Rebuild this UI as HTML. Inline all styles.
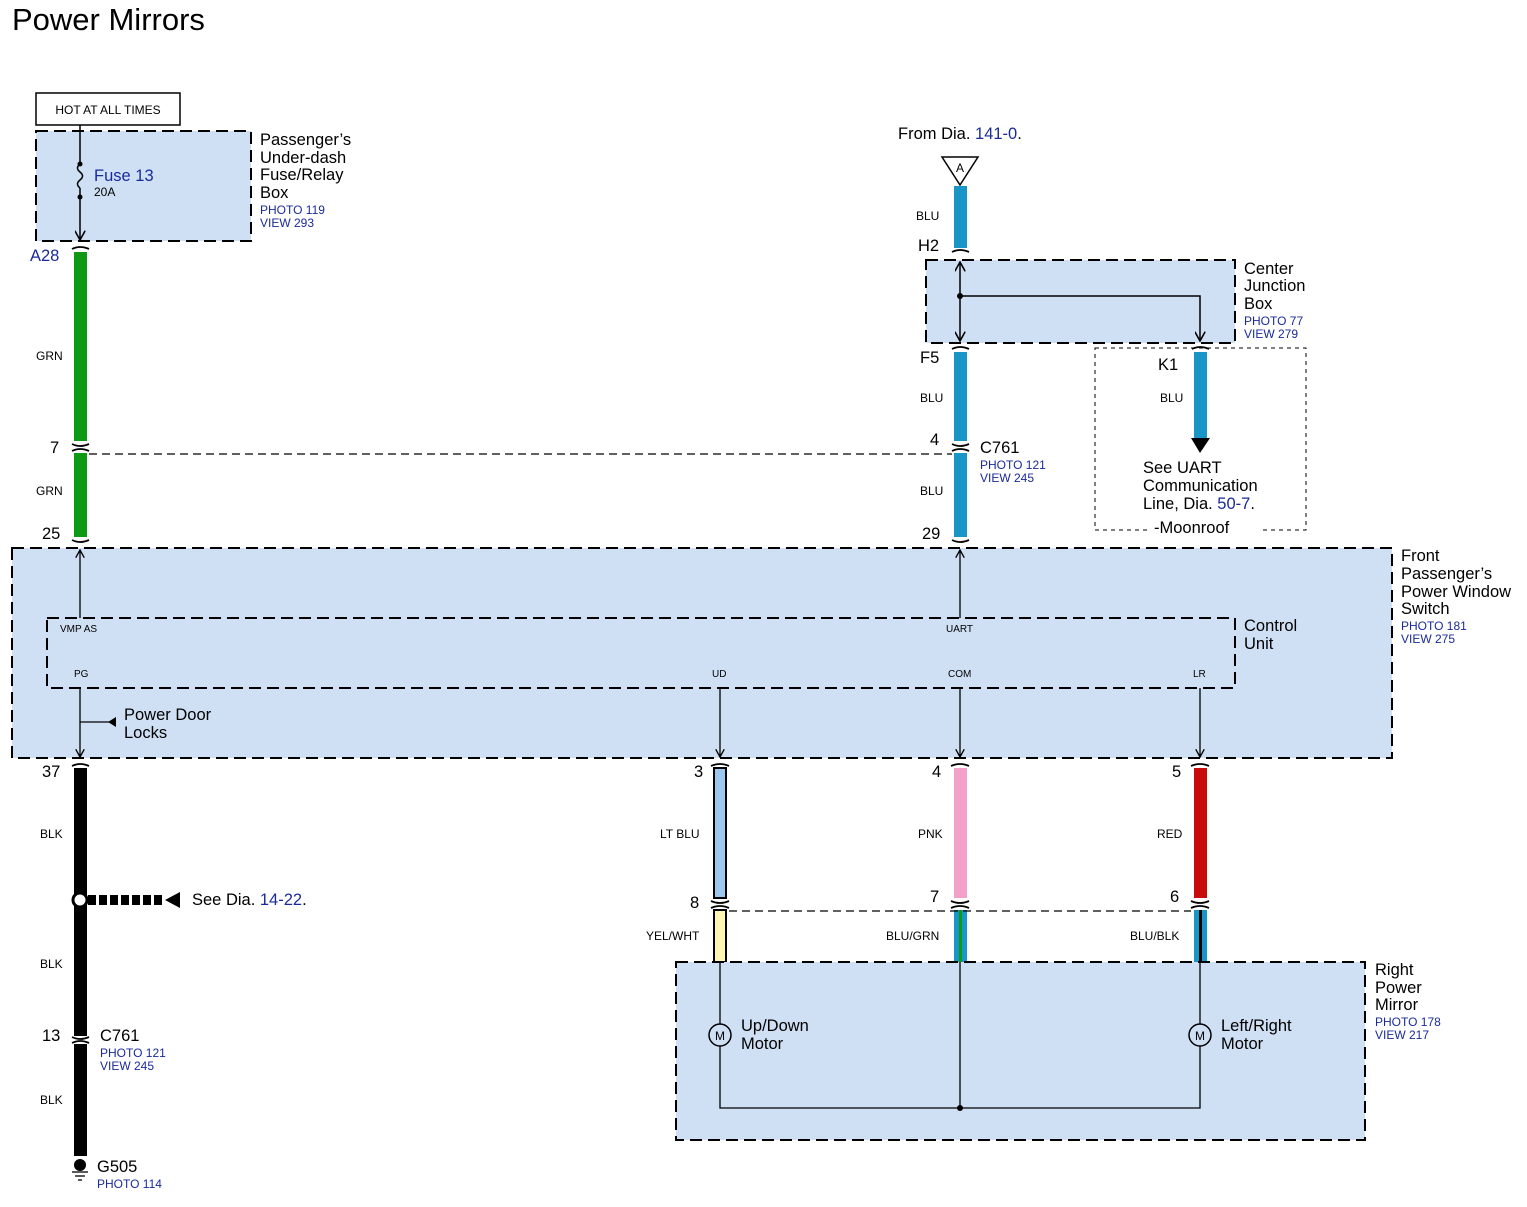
<!DOCTYPE html>
<html><head><meta charset="utf-8"><style>
html,body{margin:0;padding:0;background:#fff}
svg{display:block}
text{font-family:"Liberation Sans",Arial,sans-serif}
</style></head><body>
<svg width="1527" height="1207" viewBox="0 0 1527 1207" xmlns="http://www.w3.org/2000/svg">
<defs>
<marker id="ar" viewBox="0 0 10 10" refX="9" refY="5" markerWidth="7" markerHeight="7" orient="auto-start-reverse"><path d="M0,0 L9,5 L0,10" fill="none" stroke="#000" stroke-width="1.5"/></marker>
</defs>
<text x="12" y="30" font-size="31">Power Mirrors</text>

<!-- HOT box -->
<rect x="36" y="93" width="144" height="32" fill="#fff" stroke="#000" stroke-width="1.5"/>
<text x="108" y="114" font-size="12" text-anchor="middle">HOT AT ALL TIMES</text>

<!-- fuse box -->
<rect x="36" y="131" width="215" height="110" fill="#cfe0f4" stroke="#000" stroke-width="2" stroke-dasharray="12,6"/>
<line x1="80" y1="125" x2="80" y2="164" stroke="#000" stroke-width="1.5"/>
<path d="M80,164 q-5,4 0,8 q5,4 0,8 q-5,4 0,8" fill="none" stroke="#000" stroke-width="1.5"/>
<circle cx="80" cy="164" r="2.5"/><circle cx="80" cy="197" r="2.5"/>
<line x1="80" y1="188" x2="80" y2="240" stroke="#000" stroke-width="1.5" marker-end="url(#ar)"/>
<text x="94" y="181" font-size="16.5" fill="#1a2a9a">Fuse 13</text>
<text x="94" y="196" font-size="12">20A</text>
<g font-size="16.5"><text x="260" y="145">Passenger’s</text><text x="260" y="163">Under-dash</text><text x="260" y="180">Fuse/Relay</text><text x="260" y="198">Box</text></g>
<g font-size="12" fill="#1a2a9a"><text x="260" y="214">PHOTO 119</text><text x="260" y="227">VIEW 293</text></g>
<text x="30" y="261" font-size="16.5" fill="#1a2a9a">A28</text>

<!-- GRN wire -->
<rect x="74" y="252" width="13" height="189" fill="#0e9a14"/>
<rect x="74" y="453" width="13" height="84" fill="#0e9a14"/>
<g fill="none" stroke="#000" stroke-width="1.8">
<path d="M72,249 q8,-4 17,0"/><path d="M72,444 q8,4 17,0"/><path d="M72,451 q8,-4 17,0"/><path d="M72,540 q8,4 17,0"/>
</g>
<g font-size="12"><text x="36" y="360">GRN</text><text x="36" y="495">GRN</text></g>
<g font-size="16.5"><text x="50" y="453">7</text><text x="42" y="539">25</text></g>
<line x1="89" y1="454" x2="952" y2="454" stroke="#000" stroke-width="1.3" stroke-dasharray="8,5"/>

<!-- From Dia -->
<text x="898" y="139" font-size="16.5">From Dia. <tspan fill="#1a2a9a">141-0</tspan>.</text>
<path d="M942,157 L978,157 L960,185 Z" fill="#fff" stroke="#000" stroke-width="1.5"/>
<text x="960" y="172" font-size="12" text-anchor="middle">A</text>
<rect x="954" y="186" width="13" height="62" fill="#1a95c8"/>
<text x="916" y="220" font-size="12">BLU</text>
<text x="918" y="251" font-size="16.5">H2</text>
<path d="M952,252 q8,-4 17,0" fill="none" stroke="#000" stroke-width="1.8"/>

<!-- center junction -->
<rect x="926" y="260" width="309" height="83" fill="#cfe0f4" stroke="#000" stroke-width="2" stroke-dasharray="12,6"/>
<line x1="960" y1="296" x2="960" y2="262" stroke="#000" stroke-width="1.5" marker-end="url(#ar)"/>
<line x1="960" y1="296" x2="960" y2="341" stroke="#000" stroke-width="1.5" marker-end="url(#ar)"/>
<polyline points="960,296 1200,296 1200,341" fill="none" stroke="#000" stroke-width="1.5" marker-end="url(#ar)"/>
<circle cx="960" cy="296" r="3"/>
<g font-size="16.5"><text x="1244" y="274">Center</text><text x="1244" y="291">Junction</text><text x="1244" y="309">Box</text></g>
<g font-size="12" fill="#1a2a9a"><text x="1244" y="325">PHOTO 77</text><text x="1244" y="338">VIEW 279</text></g>

<!-- blu wire lower -->
<path d="M952,349 q8,-4 17,0" fill="none" stroke="#000" stroke-width="1.8"/>
<rect x="954" y="352" width="13" height="89" fill="#1a95c8"/>
<rect x="954" y="453" width="13" height="84" fill="#1a95c8"/>
<g fill="none" stroke="#000" stroke-width="1.8"><path d="M952,444 q8,4 17,0"/><path d="M952,451 q8,-4 17,0"/><path d="M952,540 q8,4 17,0"/></g>
<g font-size="16.5"><text x="920" y="363">F5</text><text x="930" y="445">4</text><text x="980" y="453">C761</text><text x="922" y="539">29</text></g>
<g font-size="12"><text x="920" y="402">BLU</text><text x="920" y="495">BLU</text></g>
<g font-size="12" fill="#1a2a9a"><text x="980" y="469">PHOTO 121</text><text x="980" y="482">VIEW 245</text></g>

<!-- K1 -->
<rect x="1095" y="348" width="211" height="182" fill="none" stroke="#000" stroke-width="1" stroke-dasharray="4,4"/>
<path d="M1192,349 q8,-4 17,0" fill="none" stroke="#000" stroke-width="1.8"/>
<rect x="1194" y="352" width="13" height="86" fill="#1a95c8"/>
<path d="M1191,438 L1210,438 L1200,453 Z" fill="#000"/>
<text x="1158" y="370" font-size="16.5">K1</text>
<text x="1160" y="402" font-size="12">BLU</text>
<g font-size="16.5"><text x="1143" y="473">See UART</text><text x="1143" y="491">Communication</text><text x="1143" y="509">Line, Dia. <tspan fill="#1a2a9a">50-7</tspan>.</text></g>
<rect x="1150" y="520" width="110" height="16" fill="#fff"/>
<text x="1154" y="533" font-size="16.5">-Moonroof</text>

<!-- switch box -->
<rect x="12" y="548" width="1380" height="210" fill="#cfe0f4" stroke="#000" stroke-width="2" stroke-dasharray="12,6"/>
<rect x="47" y="618" width="1188" height="70" fill="none" stroke="#000" stroke-width="2" stroke-dasharray="12,6"/>
<line x1="80" y1="618" x2="80" y2="550" stroke="#000" stroke-width="1.3" marker-end="url(#ar)"/>
<line x1="960" y1="618" x2="960" y2="550" stroke="#000" stroke-width="1.3" marker-end="url(#ar)"/>
<line x1="80" y1="688" x2="80" y2="757" stroke="#000" stroke-width="1.3" marker-end="url(#ar)"/>
<line x1="720" y1="688" x2="720" y2="757" stroke="#000" stroke-width="1.3" marker-end="url(#ar)"/>
<line x1="960" y1="688" x2="960" y2="757" stroke="#000" stroke-width="1.3" marker-end="url(#ar)"/>
<line x1="1200" y1="688" x2="1200" y2="757" stroke="#000" stroke-width="1.3" marker-end="url(#ar)"/>
<line x1="80" y1="722" x2="116" y2="722" stroke="#000" stroke-width="1.3"/>
<path d="M116,717 L108,722 L116,727 Z" fill="#000"/>
<g font-size="10"><text x="60" y="632">VMP AS</text><text x="946" y="632">UART</text><text x="74" y="677">PG</text><text x="712" y="677">UD</text><text x="948" y="677">COM</text><text x="1193" y="677">LR</text></g>
<g font-size="16.5"><text x="124" y="720">Power Door</text><text x="124" y="738">Locks</text>
<text x="1244" y="631">Control</text><text x="1244" y="649">Unit</text>
<text x="1401" y="561">Front</text><text x="1401" y="579">Passenger’s</text><text x="1401" y="597">Power Window</text><text x="1401" y="614">Switch</text></g>
<g font-size="12" fill="#1a2a9a"><text x="1401" y="630">PHOTO 181</text><text x="1401" y="643">VIEW 275</text></g>

<!-- BLK ground wire -->
<rect x="74" y="768" width="13" height="268" fill="#000"/>
<rect x="74" y="1044" width="13" height="112" fill="#000"/>
<g fill="none" stroke="#000" stroke-width="1.8"><path d="M72,766 q8,-4 17,0"/><path d="M72,1037 q8,4 17,0"/><path d="M72,1043 q8,-4 17,0"/></g>
<g font-size="16.5"><text x="42" y="777">37</text><text x="42" y="1041">13</text><text x="100" y="1041">C761</text><text x="97" y="1172">G505</text></g>
<g font-size="12"><text x="40" y="838">BLK</text><text x="40" y="968">BLK</text><text x="40" y="1104">BLK</text></g>
<g font-size="12" fill="#1a2a9a"><text x="100" y="1057">PHOTO 121</text><text x="100" y="1070">VIEW 245</text><text x="97" y="1188">PHOTO 114</text></g>
<circle cx="80" cy="900" r="7" fill="#fff" stroke="#000" stroke-width="3"/>
<line x1="88" y1="900" x2="165" y2="900" stroke="#000" stroke-width="10" stroke-dasharray="8,3"/>
<path d="M165,900 L180,892 L180,908 Z" fill="#000"/>
<text x="192" y="905" font-size="16.5">See Dia. <tspan fill="#1a2a9a">14-22</tspan>.</text>
<circle cx="80" cy="1165" r="6" fill="#000"/>
<line x1="72" y1="1172" x2="88" y2="1172" stroke="#000" stroke-width="1.3"/>
<line x1="75" y1="1176" x2="85" y2="1176" stroke="#000" stroke-width="1.3"/>
<line x1="78" y1="1180" x2="82" y2="1180" stroke="#000" stroke-width="1.3"/>

<!-- lower wires -->
<rect x="714" y="768" width="12" height="130" fill="#9cc8f0" stroke="#000" stroke-width="2"/>
<rect x="714" y="910" width="12" height="52" fill="#fbf5b0" stroke="#000" stroke-width="2"/>
<rect x="954" y="768" width="13" height="130" fill="#f3a1c8"/>
<rect x="954" y="910" width="13" height="52" fill="#1a95c8"/><rect x="959" y="910" width="3" height="52" fill="#0e9a14"/>
<rect x="1194" y="768" width="13" height="130" fill="#c80c0c"/>
<rect x="1194" y="910" width="13" height="52" fill="#1a95c8"/><rect x="1199" y="910" width="3" height="52" fill="#000"/>
<g fill="none" stroke="#000" stroke-width="1.8">
<path d="M711,766 q9,-4 18,0"/><path d="M711,901 q9,4 18,0"/><path d="M711,908 q9,-4 18,0"/>
<path d="M951,766 q9,-4 18,0"/><path d="M951,901 q9,4 18,0"/><path d="M951,908 q9,-4 18,0"/>
<path d="M1191,766 q9,-4 18,0"/><path d="M1191,901 q9,4 18,0"/><path d="M1191,908 q9,-4 18,0"/>
</g>
<line x1="729" y1="911" x2="1191" y2="911" stroke="#000" stroke-width="1.3" stroke-dasharray="8,5"/>
<g font-size="16.5"><text x="694" y="777">3</text><text x="932" y="777">4</text><text x="1172" y="777">5</text><text x="690" y="908">8</text><text x="930" y="902">7</text><text x="1170" y="902">6</text></g>
<g font-size="12"><text x="660" y="838">LT BLU</text><text x="918" y="838">PNK</text><text x="1157" y="838">RED</text><text x="646" y="940">YEL/WHT</text><text x="886" y="940">BLU/GRN</text><text x="1130" y="940">BLU/BLK</text></g>

<!-- mirror box -->
<rect x="676" y="962" width="689" height="178" fill="#cfe0f4" stroke="#000" stroke-width="2" stroke-dasharray="12,6"/>
<polyline points="720,962 720,1108 1200,1108 1200,962" fill="none" stroke="#000" stroke-width="1.3"/>
<line x1="960" y1="962" x2="960" y2="1108" stroke="#000" stroke-width="1.3"/>
<circle cx="960" cy="1108" r="3"/>
<circle cx="720" cy="1035" r="11" fill="#cfe0f4" stroke="#000" stroke-width="1.5"/>
<circle cx="1200" cy="1035" r="11" fill="#cfe0f4" stroke="#000" stroke-width="1.5"/>
<text x="720" y="1040" font-size="12" text-anchor="middle">M</text>
<text x="1200" y="1040" font-size="12" text-anchor="middle">M</text>
<g font-size="16.5"><text x="741" y="1031">Up/Down</text><text x="741" y="1049">Motor</text><text x="1221" y="1031">Left/Right</text><text x="1221" y="1049">Motor</text>
<text x="1375" y="975">Right</text><text x="1375" y="993">Power</text><text x="1375" y="1010">Mirror</text></g>
<g font-size="12" fill="#1a2a9a"><text x="1375" y="1026">PHOTO 178</text><text x="1375" y="1039">VIEW 217</text></g>
</svg>
</body></html>
